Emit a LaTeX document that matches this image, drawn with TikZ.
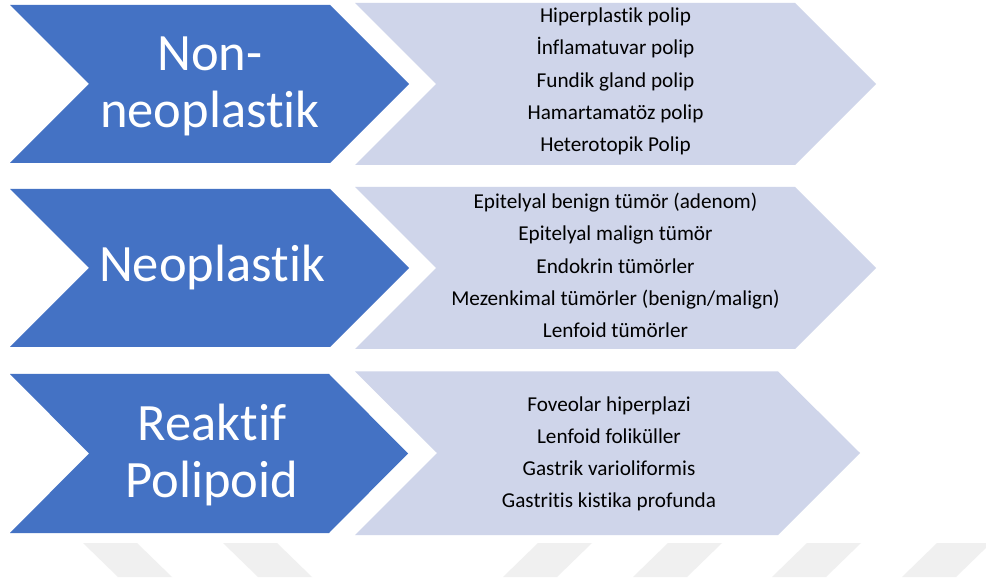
\documentclass[tikz,border=0pt]{standalone}
\usepackage{fontspec}
\setmainfont[Ligatures=NoCommon]{Carlito}
\definecolor{chevblue}{HTML}{4472C4}
\definecolor{chevlight}{HTML}{CFD5EA}
\definecolor{wmgray}{HTML}{F0F0F0}
\begin{document}
\begin{tikzpicture}[x=1pt,y=-1pt,
  bluechev/.style={fill=chevblue,draw=none},
  lightchev/.style={fill=chevlight,draw=none},
  wmark/.style={fill=wmgray,draw=none},
  biglabel/.style={text=white,align=center,font=\fontsize{52.5}{57}\selectfont,inner sep=0pt},
  itemlist/.style={text=black,align=center,font=\fontsize{21.2}{32.2}\selectfont,inner sep=0pt}]
\useasboundingbox[fill=white] (0,0) rectangle (986,585);
% watermark
\fill[wmark] (83,543) -- (137,543) -- (172,577) -- (118,577) -- cycle;
\fill[wmark] (223,543) -- (277,543) -- (312,577) -- (258,577) -- cycle;
\fill[wmark] (538,543) -- (592,543) -- (557,577) -- (503,577) -- cycle;
\fill[wmark] (668,543) -- (722,543) -- (687,577) -- (633,577) -- cycle;
\fill[wmark] (807,543) -- (861,543) -- (826,577) -- (772,577) -- cycle;
\fill[wmark] (937,543) -- (991,543) -- (956,577) -- (902,577) -- cycle;
% light chevrons
\fill[lightchev] (355,3) -- (795,3) -- (876,84) -- (795,165) -- (355,165) -- (436,84) -- cycle;
\fill[lightchev] (355,187) -- (795,187) -- (876,268) -- (795,349) -- (355,349) -- (436,268) -- cycle;
\fill[lightchev] (355,371.5) -- (778,371.5) -- (860,453) -- (778,535) -- (355,535) -- (437,453) -- cycle;
% blue chevrons
\fill[bluechev] (10,5) -- (330,5) -- (409,84) -- (330,163) -- (10,163) -- (89,84) -- cycle;
\fill[bluechev] (10,189) -- (330,189) -- (409,268) -- (330,347) -- (10,347) -- (89,268) -- cycle;
\fill[bluechev] (10,374) -- (329,374) -- (408,453.5) -- (329,533) -- (10,533) -- (89,453.5) -- cycle;
% labels
\node[biglabel] (l1) at (210,86) {Non-\\neoplastik};
\node[biglabel] (l2) at (212,268) {Neoplastik};
\node[biglabel] (l3) at (212,455) {Reaktif\\Polipoid};
% lists
\node[itemlist] (t1) at (615.5,81.5) {Hiperplastik polip\\İnflamatuvar polip\\Fundik gland polip\\Hamartamatöz polip\\Heterotopik Polip};
\node[itemlist] (t2) at (615.5,265.5) {Epitelyal benign tümör (adenom)\\Epitelyal malign tümör\\Endokrin tümörler\\Mezenkimal tümörler (benign/malign)\\Lenfoid tümörler};
\node[itemlist] (t3) at (609,454) {Foveolar hiperplazi\\Lenfoid foliküller\\Gastrik varioliformis\\Gastritis kistika profunda};
\end{tikzpicture}
\end{document}
